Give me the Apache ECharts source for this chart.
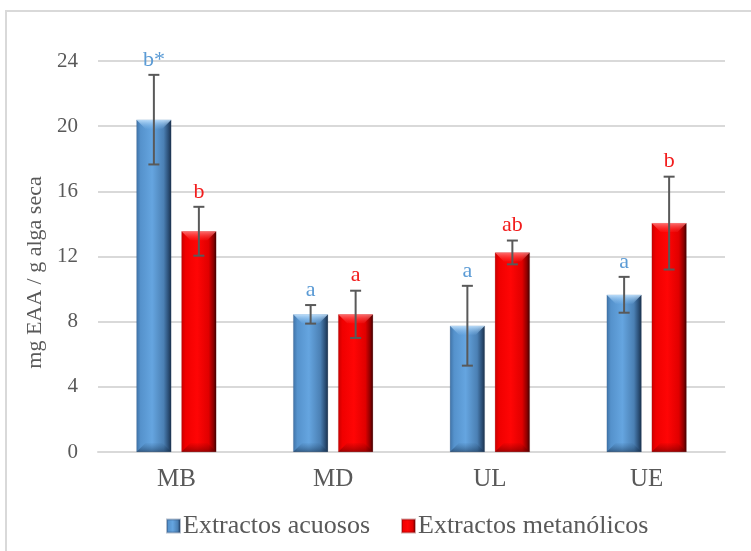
<!DOCTYPE html>
<html>
<head>
<meta charset="utf-8">
<script src="https://cdn.jsdelivr.net/npm/echarts@6/dist/echarts.min.js"></script>
<style>
  html, body { margin: 0; padding: 0; background: #fff; }
  #chart { width: 751px; height: 551px; }
</style>
</head>
<body>
<div id="chart"></div>
<script>
// Antioxidant capacity per alga species (mg EAA / g dry alga)
const categories = ['MB', 'MD', 'UL', 'UE'];
const acuosos = [20.4, 8.45, 7.75, 9.65];
const acuososErr = [2.75, 0.57, 2.45, 1.1];
const acuososLetters = ['b*', 'a', 'a', 'a'];
const metanolicos = [13.55, 8.45, 12.25, 14.05];
const metanolicosErr = [1.5, 1.45, 0.73, 2.85];
const metanolicosLetters = ['b', 'a', 'ab', 'b'];
const yTicks = [0, 4, 8, 12, 16, 20, 24];

const FONT = '"Liberation Serif", "DejaVu Serif", serif';
const BAR_W = 35;
const BAR_GAP = 10;

const blueFill = new echarts.graphic.LinearGradient(0, 0, 1, 0, [
  { offset: 0, color: '#3f72a6' },
  { offset: 0.12, color: '#5592cc' },
  { offset: 0.45, color: '#65a5e0' },
  { offset: 0.78, color: '#4b80b4' },
  { offset: 0.92, color: '#2a4d74' },
  { offset: 1, color: '#1a2f48' }
]);
const redFill = new echarts.graphic.LinearGradient(0, 0, 1, 0, [
  { offset: 0, color: '#c80000' },
  { offset: 0.12, color: '#f00000' },
  { offset: 0.45, color: '#ff0505' },
  { offset: 0.78, color: '#e00000' },
  { offset: 0.92, color: '#8a0000' },
  { offset: 1, color: '#3a0000' }
]);

// Bevel highlights, error bars and significance letters for one series
function makeOverlay(name, values, errs, letters, side, letterColor, topLight, bottomDark) {
  return {
    type: 'custom',
    name: name + ' overlay',
    z: 5,
    silent: true,
    data: values.map((v, i) => [i, v, errs[i]]),
    encode: { x: 0, y: 1 },
    renderItem: function (params, api) {
      const idx = api.value(0);
      const v = api.value(1);
      const e = api.value(2);
      const letter = letters[params.dataIndex];
      const base = api.coord([idx, 0]);
      const top = api.coord([idx, v]);
      const hi = api.coord([idx, v + e]);
      const lo = api.coord([idx, v - e]);
      const cx = base[0] + side * (BAR_W + BAR_GAP) / 2;
      const x0 = cx - BAR_W / 2, x1 = cx + BAR_W / 2;
      const b = 9;
      const cap = 5.5;
      const lineStyle = { stroke: '#595959', lineWidth: 2 };
      return {
        type: 'group',
        children: [
          { type: 'polygon', shape: { points: [[x0, top[1]], [x1, top[1]], [x1 - b, top[1] + b], [x0 + b, top[1] + b]] },
            style: { fill: topLight } },
          { type: 'polygon', shape: { points: [[x0, base[1]], [x1, base[1]], [x1 - b, base[1] - b], [x0 + b, base[1] - b]] },
            style: { fill: bottomDark } },
          { type: 'line', shape: { x1: cx, y1: hi[1], x2: cx, y2: lo[1] }, style: lineStyle },
          { type: 'line', shape: { x1: cx - cap, y1: hi[1], x2: cx + cap, y2: hi[1] }, style: lineStyle },
          { type: 'line', shape: { x1: cx - cap, y1: lo[1], x2: cx + cap, y2: lo[1] }, style: lineStyle },
          { type: 'text', style: { text: letter, x: cx, y: hi[1] - 4, align: 'center', verticalAlign: 'bottom',
              fill: letterColor, font: '22px ' + FONT } }
        ]
      };
    }
  };
}

const chart = echarts.init(document.getElementById('chart'));
chart.setOption({
  backgroundColor: '#ffffff',
  animation: false,
  graphic: [{
    type: 'rect', shape: { x: 6, y: 11, width: 800, height: 600 },
    style: { fill: 'none', stroke: '#d9d9d9', lineWidth: 2 }, z: 0, silent: true
  }],
  grid: { left: 98, right: 26, top: 61, bottom: 99 },
  legend: {
    left: 161, top: 508,
    itemWidth: 13, itemHeight: 13, itemGap: 31,
    icon: 'rect',
    textStyle: { fontFamily: FONT, fontSize: 26, color: '#595959', padding: [0, 0, 0, -2] },
    data: [
      { name: 'Extractos acuosos', itemStyle: { color: blueFill } },
      { name: 'Extractos metanólicos', itemStyle: { color: redFill } }
    ]
  },
  xAxis: {
    type: 'category',
    data: categories,
    axisLine: { lineStyle: { color: '#d9d9d9', width: 2 } },
    axisTick: { show: false },
    axisLabel: { fontFamily: FONT, fontSize: 25, color: '#595959', margin: 15 }
  },
  yAxis: {
    type: 'value',
    min: yTicks[0], max: yTicks[yTicks.length - 1], interval: 4,
    name: 'mg EAA / g alga seca',
    nameLocation: 'middle',
    nameGap: 52,
    nameTextStyle: { fontFamily: FONT, fontSize: 22, color: '#595959', padding: [0, 0, 0, -32] },
    axisLine: { show: false },
    axisTick: { show: false },
    axisLabel: { fontFamily: FONT, fontSize: 21, color: '#595959', margin: 20 },
    splitLine: { lineStyle: { color: '#d9d9d9', width: 2 } }
  },
  series: [
    { name: 'Extractos acuosos', type: 'bar', data: acuosos, barWidth: BAR_W, barGap: (BAR_GAP / BAR_W * 100) + '%',
      itemStyle: { color: blueFill, borderColor: 'rgba(40,70,110,0.35)', borderWidth: 0.5 }, z: 3 },
    { name: 'Extractos metanólicos', type: 'bar', data: metanolicos, barWidth: BAR_W,
      itemStyle: { color: redFill, borderColor: 'rgba(120,0,0,0.35)', borderWidth: 0.5 }, z: 3 },
    makeOverlay('Extractos acuosos', acuosos, acuososErr, acuososLetters, -1, '#5b9bd5',
      new echarts.graphic.LinearGradient(0, 0, 0, 1, [{ offset: 0, color: 'rgba(200,230,255,0.9)' }, { offset: 1, color: 'rgba(130,185,235,0.15)' }]),
      new echarts.graphic.LinearGradient(0, 1, 0, 0, [{ offset: 0, color: 'rgba(20,45,75,0.55)' }, { offset: 1, color: 'rgba(40,80,120,0.05)' }])),
    makeOverlay('Extractos metanólicos', metanolicos, metanolicosErr, metanolicosLetters, 1, '#f21c1c',
      new echarts.graphic.LinearGradient(0, 0, 0, 1, [{ offset: 0, color: 'rgba(255,130,130,0.85)' }, { offset: 1, color: 'rgba(255,60,60,0.15)' }]),
      new echarts.graphic.LinearGradient(0, 1, 0, 0, [{ offset: 0, color: 'rgba(90,0,0,0.55)' }, { offset: 1, color: 'rgba(120,0,0,0.05)' }]))
  ]
});
</script>
</body>
</html>
